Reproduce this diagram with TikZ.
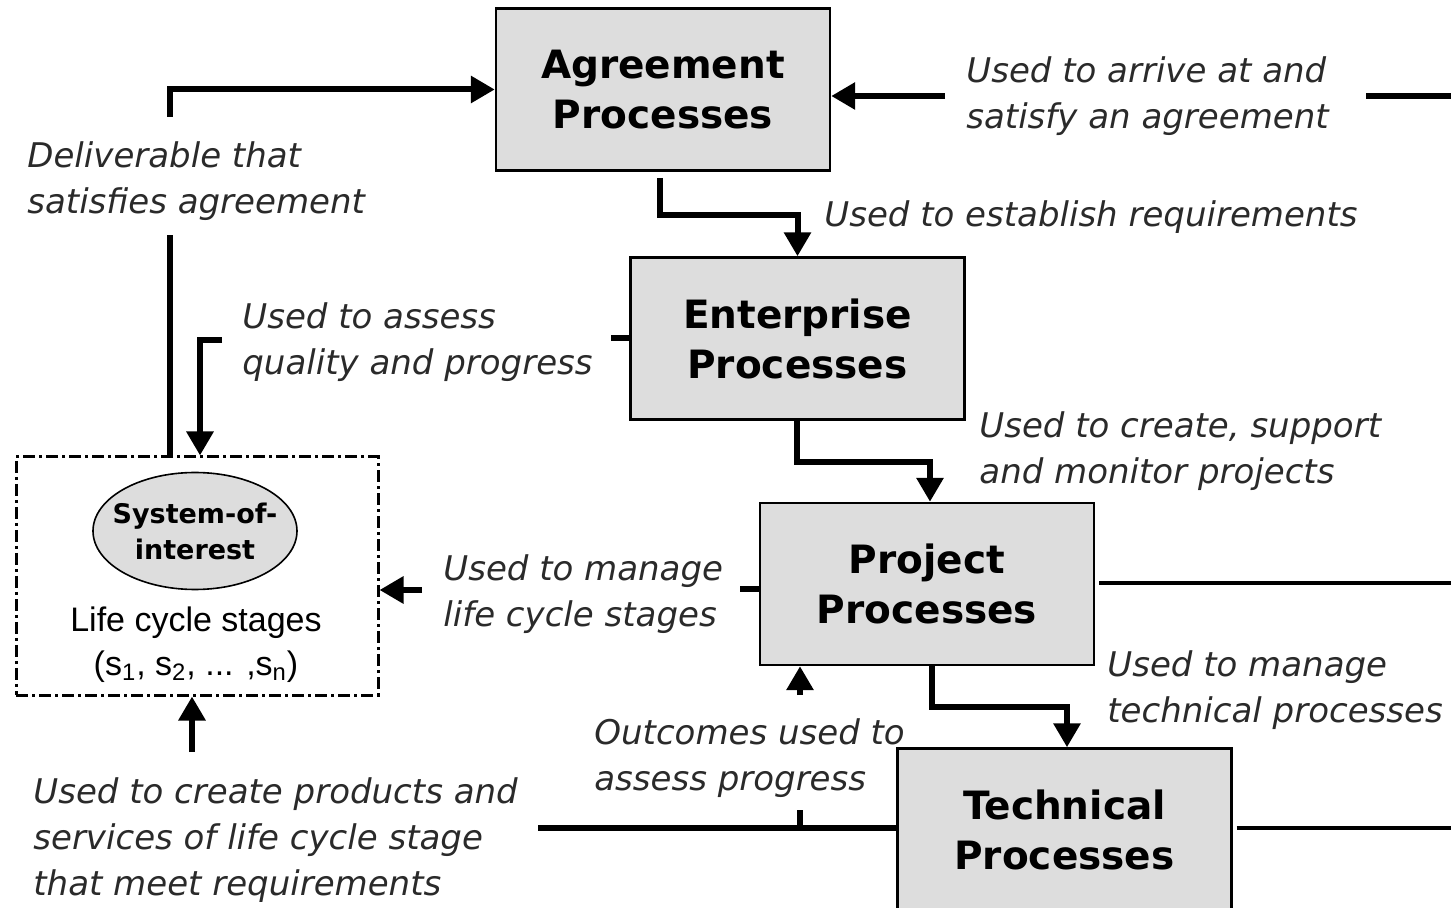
\documentclass[tikz,border=0pt]{standalone}
\usepackage{fontspec}
\setmainfont{DejaVu Sans}
\newfontfamily\arialfont{Liberation Sans}
\usetikzlibrary{shapes.geometric,arrows.meta}
\definecolor{boxgray}{HTML}{DDDDDD}
\definecolor{labgray}{HTML}{2A2A2A}

\begin{document}
\begin{tikzpicture}[x=0.5pt,y=-0.5pt,
  procbox/.style={draw=black,line width=1.2pt,fill=boxgray,minimum width=167pt,
    minimum height=81pt,inner sep=0pt,align=center,
    font=\bfseries\fontsize{19.5}{25}\selectfont},
  lab/.style={anchor=west,align=left,inner sep=0pt,text=labgray,
    font=\itshape\fontsize{17}{23}\selectfont},
  conn/.style={line width=3pt},
  thinconn/.style={line width=2pt},
  arr/.style={conn,-{Triangle[length=12pt,width=13pt]}}]

\useasboundingbox (0,0) rectangle (1451,908);
\clip (0,0) rectangle (1451,908);

% process boxes
\node[procbox] (agr)  at (663,89.5)   {Agreement\\Processes};
\node[procbox] (ent)  at (797.5,338.5) {Enterprise\\Processes};
\node[procbox] (proj) at (927,584)    {Project\\Processes};
\node[procbox] (tech) at (1064.5,829.5) {Technical\\Processes};

% system-of-interest frame
\node[draw,line width=1.5pt,dash pattern=on 6pt off 2pt on 1.5pt off 2pt,
  minimum width=181pt,minimum height=119pt,inner sep=0pt] (dbox) at (197,576) {};
\node[ellipse,draw,line width=0.8pt,fill=boxgray,minimum width=102pt,
  minimum height=58.5pt,inner sep=0pt] (soi) at (195,531) {};
\node[align=center,inner sep=0pt,font=\bfseries\fontsize{13.5}{18}\selectfont]
  (soitext) at (soi.center) {System-of-\\interest};
\node[align=center,inner sep=0pt,font=\arialfont\fontsize{17}{22}\selectfont]
  (stages) at (196,645) {Life cycle stages\\(s\textsubscript{1}, s\textsubscript{2}, ... ,s\textsubscript{n})};

% labels
\node[lab] (lArrive)  at (966,96)  {Used to arrive at and\\satisfy an agreement};
\node[lab] (lEstab)   at (824,217) {Used to establish requirements};
\node[lab] (lDeliv)   at (27,181)  {Deliverable that\\satisfies agreement};
\node[lab] (lAssess)  at (242,342) {Used to assess\\quality and progress};
\node[lab] (lSupport) at (979,451) {Used to create, support\\and monitor projects};
\node[lab] (lLife)    at (443,594) {Used to manage\\life cycle stages};
\node[lab] (lTech)    at (1107,690) {Used to manage\\technical processes};
\node[lab] (lOutc)    at (594,758) {Outcomes used to\\assess progress};
\node[lab] (lProd)    at (33,840)  {Used to create products and\\services of life cycle stage\\that meet requirements};

% free ends of the connectors
\coordinate (d1) at (170,235);
\coordinate (d2) at (170,117);
\coordinate (t1) at (1366,96);
\coordinate (t2) at (1451,96);
\coordinate (t3) at (945,96);
\coordinate (a1) at (660,178);
\coordinate (q1) at (222,340);
\coordinate (m1) at (422,590);
\coordinate (r1) at (1451,583);
\coordinate (o1) at (800,695);
\coordinate (o2) at (800,810);
\coordinate (b1) at (538,828);
\coordinate (b2) at (192,752);
\coordinate (r2) at (1451,828);

% deliverable to agreement
\draw[conn] (dbox.north -| d1) -- (d1);
\draw[arr] (d2) |- (agr.west);
% arrive at agreement
\draw[conn] (t1) -- (t2);
\draw[arr] (t3) -- (t3 -| agr.east);
% agreement to enterprise
\draw[arr] (a1) -- ++(0,37) -| (ent.north);
% assess quality and progress
\draw[conn] (ent.west) -- ++(-18,0);
\draw[arr] (q1) -| ([xshift=1.5pt]dbox.north);
% enterprise to project
\draw[arr] ([xshift=-0.25pt]ent.south) -- ++(0,41) -| ([xshift=1.5pt]proj.north);
% manage life cycle stages
\draw[conn] ([yshift=-2.5pt]proj.west) -- ++(-19,0);
\draw[arr] (m1) -- (m1 -| dbox.east);
% project to the right
\draw[thinconn] ([xshift=2pt]proj.east |- r1) -- (r1);
% project to technical
\draw[arr] ([xshift=2.5pt]proj.south) -- ++(0,41) -| ([xshift=1.25pt]tech.north);
% outcomes to project
\draw[arr] (o1) -- (o1 |- proj.south);
\draw[conn] (o2) -- (o2 |- b1);
% technical outputs
\draw[conn] (tech.west |- b1) -- (b1);
\draw[arr] (b2) -- (b2 |- dbox.south);
\draw[thinconn] ([xshift=2pt]tech.east |- r2) -- (r2);
\end{tikzpicture}
\end{document}
